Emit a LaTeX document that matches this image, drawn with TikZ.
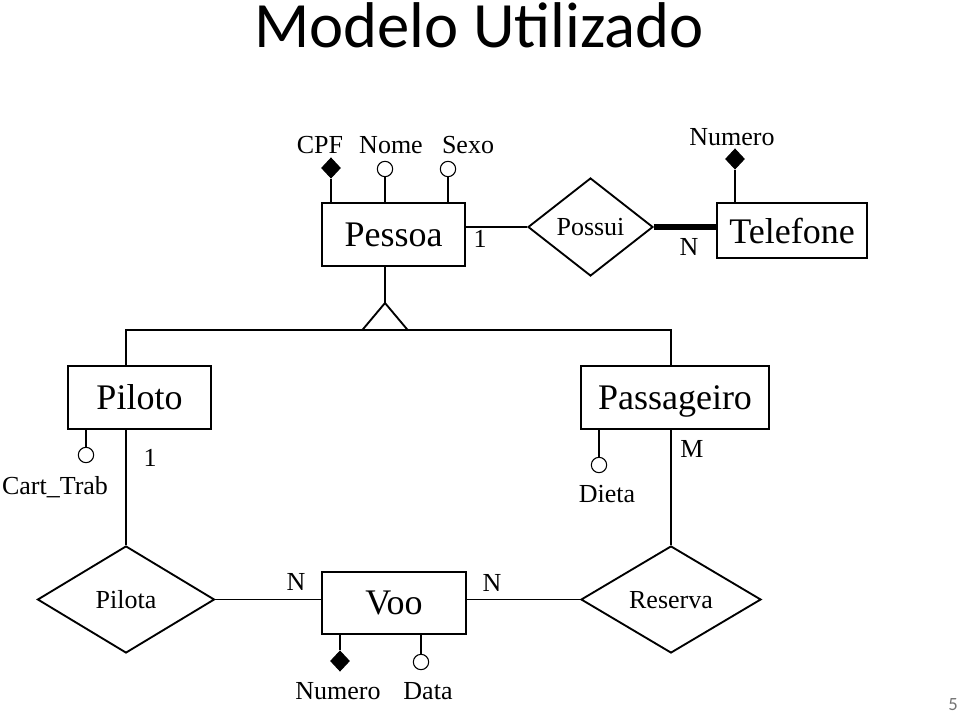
\documentclass[tikz,border=0pt]{standalone}
\usepackage{fontspec}
\setmainfont{Liberation Serif}
\newfontfamily\titlefont{Carlito}
\usetikzlibrary{shapes.geometric}
\begin{document}
\begin{tikzpicture}[x=0.75pt,y=-0.75pt,
  line width=1.4pt,
  entity/.style={draw,rectangle,inner sep=0pt,text depth=0pt,font=\fontsize{27}{29}\selectfont},
  rel/.style={draw,diamond,inner sep=0pt,text depth=0pt,font=\fontsize{19.5}{21}\selectfont},
  lbl/.style={inner sep=0pt,anchor=base,font=\fontsize{19.5}{21}\selectfont},
  keyattr/.style={draw,fill=black,diamond,minimum width=14pt,minimum height=15pt,inner sep=0pt,line width=0.8pt},
  plainattr/.style={draw,fill=white,circle,minimum size=11.5pt,inner sep=0pt,line width=0.8pt},
  thickrel/.style={line width=4pt},
]
\useasboundingbox (0,0) rectangle (960,713);

% title and page number
\node[inner sep=0pt,anchor=base,font=\titlefont\fontsize{48.5}{52}\selectfont] (title) at (479,48) {Modelo Utilizado};
\node[inner sep=0pt,anchor=base,text=black!55,font=\titlefont\fontsize{14}{16}\selectfont] (pnum) at (953,710) {5};

% entities
\node[entity,minimum width=107.25pt,minimum height=47.25pt] (pessoa) at (393.5,234.5) {Pessoa};
\node[entity,minimum width=112.5pt,minimum height=41.25pt] (telefone) at (792,230.5) {Telefone};
\node[entity,minimum width=107.25pt,minimum height=47.25pt] (piloto) at (139.5,397.5) {Piloto};
\node[entity,minimum width=141pt,minimum height=47.25pt] (passageiro) at (675,397.5) {Passageiro};
\node[entity,minimum width=108pt,minimum height=46.5pt] (voo) at (394,603) {Voo};

% relationships
\node[rel,minimum width=93.75pt,minimum height=73.5pt] (possui) at (590.5,227) {Possui};
\node[rel,minimum width=132.75pt,minimum height=80.25pt] (pilota) at (126,599.5) {Pilota};
\node[rel,minimum width=135pt,minimum height=80.25pt] (reserva) at (671,599.5) {Reserva};

% connectors
\draw (possui.west -| pessoa.east) -- (possui.west);
\draw[thickrel] (possui.east) -- (possui.east -| telefone.west);

\coordinate (isa) at (385,303);
\coordinate (bar) at (385,330);
\draw (isa |- pessoa.south) -- (isa);
\draw (isa) -- ([xshift=-17]bar) (isa) -- ([xshift=17]bar);
\draw (pilota.north |- piloto.north) -- (pilota.north |- bar) -- (reserva.north |- bar) -- (reserva.north |- passageiro.north);
\draw (pilota.north |- piloto.south) -- (pilota.north);
\draw (reserva.north |- passageiro.south) -- (reserva.north);
\draw (pilota.east) -- (pilota.east -| voo.west);
\draw (reserva.west -| voo.east) -- (reserva.west);

% cardinalities
\node[lbl] (c1) at (480,247) {1};
\node[lbl] (c2) at (689,255) {N};
\node[lbl] (c3) at (150,466) {1};
\node[lbl] (c4) at (692,457) {M};
\node[lbl] (c5) at (296,590) {N};
\node[lbl] (c6) at (492,591) {N};

% attributes
\node[keyattr] (cpfm) at (331,168) {};
\node[plainattr] (nomem) at (385,169) {};
\node[plainattr] (sexom) at (448,169) {};
\node[keyattr] (telnm) at (735,159) {};
\node[plainattr] (cartm) at (86,455) {};
\node[plainattr] (dietam) at (599,465) {};
\node[keyattr] (voonm) at (340,661) {};
\node[plainattr] (datam) at (421,662) {};

\draw (cpfm |- pessoa.north) -- (cpfm);
\draw (nomem |- pessoa.north) -- (nomem);
\draw (sexom |- pessoa.north) -- (sexom);
\draw (telnm |- telefone.north) -- (telnm);
\draw (cartm |- piloto.south) -- (cartm);
\draw (dietam |- passageiro.south) -- (dietam);
\draw (voonm |- voo.south) -- (voonm);
\draw (datam |- voo.south) -- (datam);

\node[lbl] (cpf) at (320,154) {CPF};
\node[lbl] (nome) at (391,154) {Nome};
\node[lbl] (sexo) at (468,154) {Sexo};
\node[lbl] (telnum) at (732,146) {Numero};
\node[lbl] (cart) at (55,494) {Cart\_Trab};
\node[lbl] (dieta) at (607,502) {Dieta};
\node[lbl] (voonum) at (338,699) {Numero};
\node[lbl] (data) at (428,699) {Data};
\end{tikzpicture}
\end{document}
